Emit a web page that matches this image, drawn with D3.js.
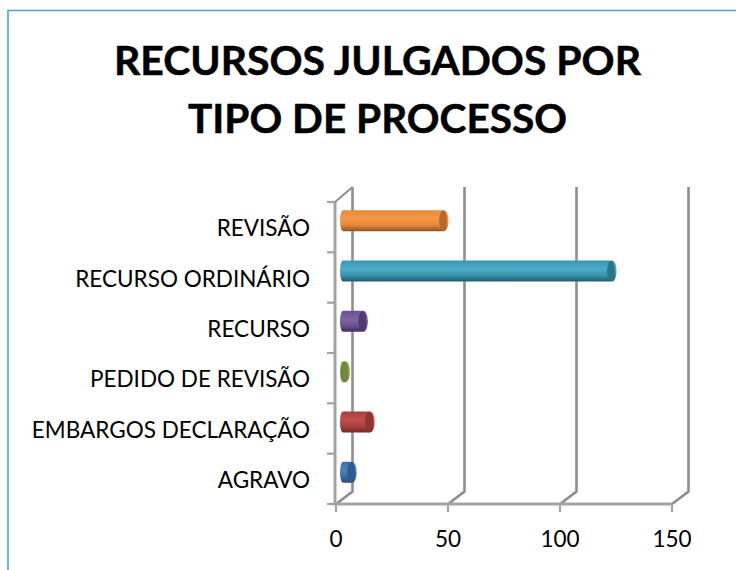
<!DOCTYPE html>
<html><head><meta charset="utf-8">
<script src="https://cdn.jsdelivr.net/npm/d3@7"></script>
<style>html,body{margin:0;padding:0;background:#fff}svg{display:block}</style>
</head><body><svg id="c" width="736" height="570"></svg>
<script>
const categories = ["AGRAVO","EMBARGOS DECLARAÇÃO","PEDIDO DE REVISÃO","RECURSO","RECURSO ORDINÁRIO","REVISÃO"];
const values = [7,15,4,12,123,48];
const colors = [
 {top:"#3a6ea5",mid:"#4f81bd",bot:"#274a73",cap:"#305a8a"},
 {top:"#a83f3c",mid:"#c0504d",bot:"#742826",cap:"#8c3533"},
 {top:"#84a044",mid:"#9bbb59",bot:"#5a7130",cap:"#6e8a3a"},
 {top:"#6c4f8f",mid:"#8064a2",bot:"#40305a",cap:"#503c70"},
 {top:"#3a95ad",mid:"#4bacc6",bot:"#235a6c",cap:"#2f7388"},
 {top:"#e68a3c",mid:"#f79646",bot:"#8f5520",cap:"#b36a2a"}
];
const xTicks = [0,50,100,150];
const titleLines = ["RECURSOS JULGADOS POR","TIPO DE PROCESSO"];

const svg = d3.select("#c");
const x = d3.scaleLinear().domain([0,150]).range([336,672]);
const y = d3.scaleBand().domain(categories).range([504,202]);
const dx = 16.5, dy = -12.5;
const wallTop = 187;
const font = "Lato, 'Open Sans', sans-serif";

svg.append("path").attr("d","M8,570V10.5H736").attr("fill","none").attr("stroke","#4f9fdb").attr("stroke-width",1.6);

svg.selectAll("text.title").data(titleLines).join("text").attr("class","title")
  .attr("x",377.5).attr("y",(d,i)=>75+i*57.5).attr("text-anchor","middle")
  .attr("font-family",font).attr("font-weight",700).attr("font-size",40.5).attr("fill","#000")
  .attr("stroke","#000").attr("stroke-width",0.5)
  .attr("textLength",(d,i)=>i?379:527).attr("lengthAdjust","spacingAndGlyphs").text(d=>d);

const gridCol = "#8e8e8e";
xTicks.forEach(t=>{
  svg.append("path")
    .attr("d",`M${x(t)},504L${x(t)+dx},${504+dy}V${wallTop}`)
    .attr("fill","none").attr("stroke",gridCol).attr("stroke-width",2.6);
});
svg.append("path").attr("d",`M${x(0)-1},202L${x(0)+dx},${wallTop}`).attr("fill","none").attr("stroke",gridCol).attr("stroke-width",2);

const axisCol = "#a3a3a3";
svg.append("path").attr("d",`M335,202V504H672`).attr("fill","none").attr("stroke",axisCol).attr("stroke-width",3);
y.domain().forEach(c=>{
  svg.append("line").attr("x1",327).attr("x2",335).attr("y1",y(c)).attr("y2",y(c)).attr("stroke",axisCol).attr("stroke-width",2.2);
});
svg.append("line").attr("x1",327).attr("x2",335).attr("y1",504).attr("y2",504).attr("stroke",axisCol).attr("stroke-width",2.2);
xTicks.forEach(t=>{
  svg.append("line").attr("x1",x(t)).attr("x2",x(t)).attr("y1",504).attr("y2",512).attr("stroke",axisCol).attr("stroke-width",2.2);
});

svg.selectAll("text.xt").data(xTicks).join("text").attr("class","xt")
  .attr("x",d=>x(d)).attr("y",547).attr("text-anchor","middle")
  .attr("font-family",font).attr("font-size",22.5).attr("fill","#000").text(d=>d);

svg.selectAll("text.cat").data(categories).join("text").attr("class","cat")
  .attr("x",310).attr("y",d=>y(d)+y.bandwidth()/2+9.2).attr("text-anchor","end")
  .attr("font-family",font).attr("font-size",22.5).attr("fill","#000").text(d=>d);

const defs = svg.append("defs");
colors.forEach((c,i)=>{
  const g = defs.append("linearGradient").attr("id","g"+i).attr("x1",0).attr("y1",0).attr("x2",0).attr("y2",1);
  [[0,c.top],[.4,c.mid],[.7,c.top],[1,c.bot]].forEach(s=>g.append("stop").attr("offset",s[0]).attr("stop-color",s[1]));
});

const h = 21, rx = 4.5, lrx = 3, ry = h/2, baseX = 340;
const data = categories.map((c,i)=>({c,v:values[i],i}));
const bars = svg.selectAll("g.bar").data(data).join("g").attr("class","bar");
const tip = d => x(d.v)+5;
const cy = d => y(d.c)+y.bandwidth()/2-6.5;
bars.append("path").attr("fill",d=>`url(#g${d.i})`)
  .attr("d",d=>{
    const capX = Math.max(tip(d)-rx, baseX+lrx), t=cy(d)-ry, b=cy(d)+ry;
    return `M${baseX+lrx},${t}L${capX},${t}A${rx},${ry} 0 0 1 ${capX},${b}L${baseX+lrx},${b}A${lrx},${ry} 0 0 1 ${baseX+lrx},${t}Z`;
  });
bars.append("ellipse")
  .attr("cx",d=>tip(d)-rx-1).attr("cy",cy)
  .attr("rx",rx-0.6).attr("ry",ry-0.3).attr("fill",d=>colors[d.i].cap);
</script></body></html>
